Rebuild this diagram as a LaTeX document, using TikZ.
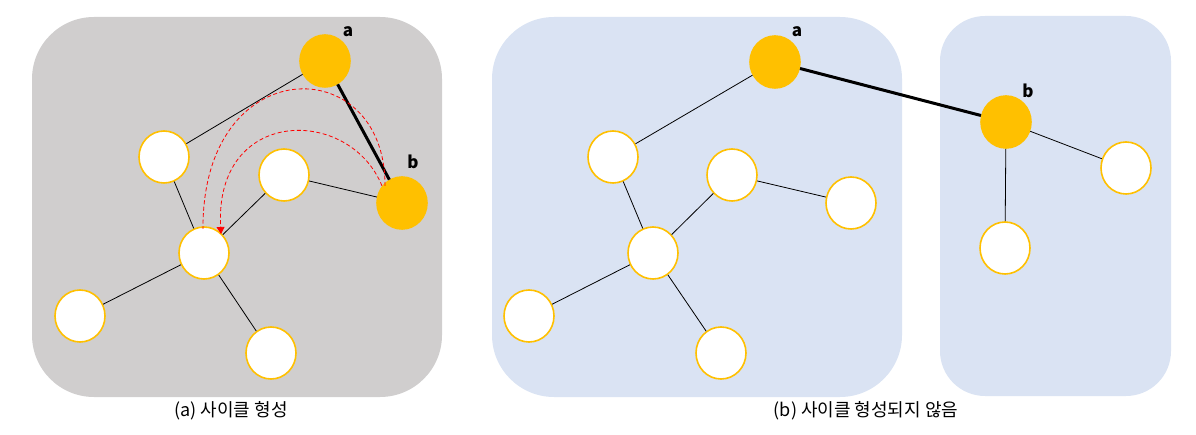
\documentclass[tikz,border=0pt]{standalone}
\usepackage{fontspec}
\newfontfamily\kr{Noto Sans CJK KR}
\usetikzlibrary{shapes.geometric,arrows.meta}
\definecolor{panelgray}{HTML}{D0CECE}
\definecolor{panelblue}{HTML}{DAE3F3}
\definecolor{gold}{HTML}{FFC000}
\tikzset{
  vtx/.style={ellipse, minimum width=50pt, minimum height=52pt, inner sep=0pt,
              draw=gold, line width=1.6pt, fill=white},
  hot/.style={vtx, fill=gold},
  edge/.style={line width=0.8pt, black},
  tree/.style={line width=3pt, black},
  walk/.style={red, line width=0.8pt, dash pattern=on 4pt off 2.5pt},
  lbl/.style={font=\kr\bfseries\fontsize{17}{19}\selectfont, inner sep=0pt},
  caption/.style={font=\kr\fontsize{18}{21}\selectfont, inner sep=0pt},
}
\begin{document}
\begin{tikzpicture}[x=1pt,y=-1pt]
\useasboundingbox (0,0) rectangle (1196,435);

% background panels
\fill[panelgray, rounded corners=62pt] (32,17) rectangle (442,397);
\fill[panelblue, rounded corners=62pt] (492,17) rectangle (902,397);
\fill[panelblue, rounded corners=45pt] (940,16) rectangle (1171,396);

% (a) cycle is formed
\node[hot] (La) at (325,61) {};
\node[hot] (Lb) at (402,203) {};
\node[vtx] (L1) at (164,157) {};
\node[vtx] (L2) at (284,175) {};
\node[vtx] (L3) at (204,253) {};
\node[vtx] (L4) at (80,316) {};
\node[vtx] (L5) at (271,353) {};
\draw[edge] (La) -- (L1);
\draw[edge] (L1) -- (L3);
\draw[edge] (L3) -- (L2);
\draw[edge] (L2) -- (Lb);
\draw[edge] (L3) -- (L4);
\draw[edge] (L3) -- (L5);
\draw[tree] (La) -- (Lb);
\node[lbl] (LaT) at (348,32) {a};
\node[lbl] (LbT) at (413,162) {b};

\coordinate (LbOut) at (385,186);
\coordinate (LbIn) at (382,186);
\coordinate (L3Top) at (203,229);
\coordinate (L3Tip) at (221,234);
\draw[walk] (LbOut) .. controls (386,50) and (202,50) .. (L3Top);
\draw[walk, -{Triangle[length=7pt,width=8pt]}] (LbIn) .. controls (350,106) and (214,106) .. (L3Tip);

\node[caption] (capA) at (231,411) {(a) 사이클 형성};

% (b) no cycle is formed
\node[hot] (Ra) at (775,62) {};
\node[hot] (Rb) at (1006,122) {};
\node[vtx] (R1) at (613,157) {};
\node[vtx] (R2) at (732,175) {};
\node[vtx] (R3) at (653,253) {};
\node[vtx] (R4) at (529,316) {};
\node[vtx] (R5) at (721,353) {};
\node[vtx] (R6) at (851,203) {};
\node[vtx] (R7) at (1126,168) {};
\node[vtx] (R8) at (1005,248) {};
\draw[edge] (Ra) -- (R1);
\draw[edge] (R1) -- (R3);
\draw[edge] (R3) -- (R2);
\draw[edge] (R2) -- (R6);
\draw[edge] (R3) -- (R4);
\draw[edge] (R3) -- (R5);
\draw[edge] (Rb) -- (R7);
\draw[edge] (Rb) -- (R8);
\draw[tree] (Ra) -- (Rb);
\node[lbl] (RaT) at (797,32) {a};
\node[lbl] (RbT) at (1028,91) {b};

\node[caption] (capB) at (866,411) {(b) 사이클 형성되지 않음};
\end{tikzpicture}
\end{document}
